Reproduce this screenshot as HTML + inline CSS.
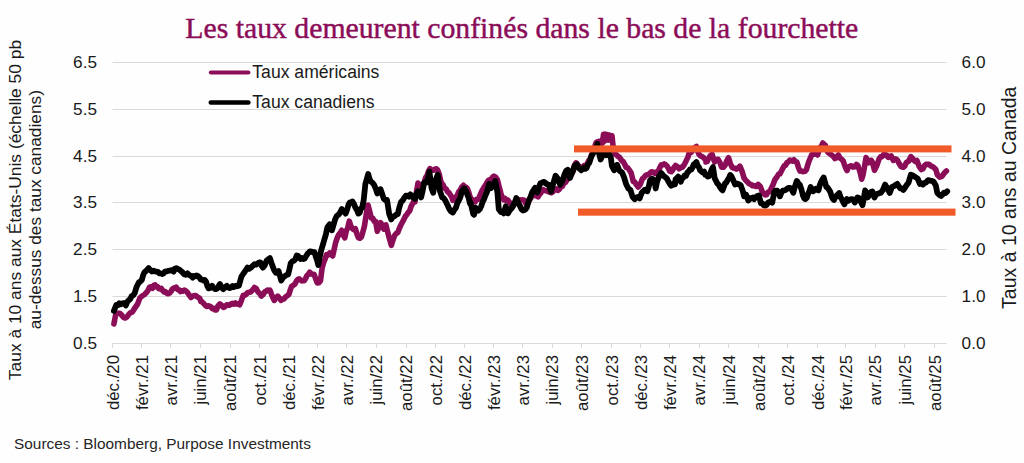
<!DOCTYPE html><html><head><meta charset="utf-8"><style>html,body{margin:0;padding:0;background:#fff;width:1024px;height:463px;overflow:hidden}svg{display:block}text{font-family:"Liberation Sans",sans-serif}</style></head><body><svg width="1024" height="463" viewBox="0 0 1024 463"><rect width="1024" height="463" fill="#fefefe"/><text x="185.3" y="37.6" textLength="673" lengthAdjust="spacingAndGlyphs" style="font-family:'Liberation Serif',serif;font-size:29.7px" fill="#8b0d58" stroke="#8b0d58" stroke-width="0.45">Les taux demeurent confinés dans le bas de la fourchette</text><line x1="112.5" y1="62.5" x2="946.5" y2="62.5" stroke="#d9d9d9" stroke-width="1"/><line x1="112.5" y1="109.5" x2="946.5" y2="109.5" stroke="#d9d9d9" stroke-width="1"/><line x1="112.5" y1="156.5" x2="946.5" y2="156.5" stroke="#d9d9d9" stroke-width="1"/><line x1="112.5" y1="202.5" x2="946.5" y2="202.5" stroke="#d9d9d9" stroke-width="1"/><line x1="112.5" y1="249.5" x2="946.5" y2="249.5" stroke="#d9d9d9" stroke-width="1"/><line x1="112.5" y1="296.5" x2="946.5" y2="296.5" stroke="#d9d9d9" stroke-width="1"/><line x1="112.5" y1="343.5" x2="946.5" y2="343.5" stroke="#d9d9d9" stroke-width="1"/><text x="97" y="68.1" text-anchor="end" font-size="17.2" fill="#1a1a1a">6.5</text><text x="961.6" y="68.1" font-size="17.2" fill="#1a1a1a">6.0</text><text x="97" y="115.1" text-anchor="end" font-size="17.2" fill="#1a1a1a">5.5</text><text x="961.6" y="115.1" font-size="17.2" fill="#1a1a1a">5.0</text><text x="97" y="162.1" text-anchor="end" font-size="17.2" fill="#1a1a1a">4.5</text><text x="961.6" y="162.1" font-size="17.2" fill="#1a1a1a">4.0</text><text x="97" y="208.1" text-anchor="end" font-size="17.2" fill="#1a1a1a">3.5</text><text x="961.6" y="208.1" font-size="17.2" fill="#1a1a1a">3.0</text><text x="97" y="255.1" text-anchor="end" font-size="17.2" fill="#1a1a1a">2.5</text><text x="961.6" y="255.1" font-size="17.2" fill="#1a1a1a">2.0</text><text x="97" y="302.1" text-anchor="end" font-size="17.2" fill="#1a1a1a">1.5</text><text x="961.6" y="302.1" font-size="17.2" fill="#1a1a1a">1.0</text><text x="97" y="349.1" text-anchor="end" font-size="17.2" fill="#1a1a1a">0.5</text><text x="961.6" y="349.1" font-size="17.2" fill="#1a1a1a">0.0</text><line x1="112.5" y1="343.5" x2="112.5" y2="348.0" stroke="#d9d9d9" stroke-width="1"/><text transform="translate(119.1,355) rotate(-90)" text-anchor="end" font-size="16.8" fill="#1a1a1a">déc./20</text><line x1="141.5" y1="343.5" x2="141.5" y2="348.0" stroke="#d9d9d9" stroke-width="1"/><text transform="translate(147.5,355) rotate(-90)" text-anchor="end" font-size="16.8" fill="#1a1a1a">févr./21</text><line x1="170.5" y1="343.5" x2="170.5" y2="348.0" stroke="#d9d9d9" stroke-width="1"/><text transform="translate(176.9,355) rotate(-90)" text-anchor="end" font-size="16.8" fill="#1a1a1a">avr./21</text><line x1="200.5" y1="343.5" x2="200.5" y2="348.0" stroke="#d9d9d9" stroke-width="1"/><text transform="translate(206.4,355) rotate(-90)" text-anchor="end" font-size="16.8" fill="#1a1a1a">juin/21</text><line x1="230.5" y1="343.5" x2="230.5" y2="348.0" stroke="#d9d9d9" stroke-width="1"/><text transform="translate(236.2,355) rotate(-90)" text-anchor="end" font-size="16.8" fill="#1a1a1a">août/21</text><line x1="259.5" y1="343.5" x2="259.5" y2="348.0" stroke="#d9d9d9" stroke-width="1"/><text transform="translate(265.7,355) rotate(-90)" text-anchor="end" font-size="16.8" fill="#1a1a1a">oct./21</text><line x1="288.5" y1="343.5" x2="288.5" y2="348.0" stroke="#d9d9d9" stroke-width="1"/><text transform="translate(295.1,355) rotate(-90)" text-anchor="end" font-size="16.8" fill="#1a1a1a">déc./21</text><line x1="317.5" y1="343.5" x2="317.5" y2="348.0" stroke="#d9d9d9" stroke-width="1"/><text transform="translate(323.5,355) rotate(-90)" text-anchor="end" font-size="16.8" fill="#1a1a1a">févr./22</text><line x1="346.5" y1="343.5" x2="346.5" y2="348.0" stroke="#d9d9d9" stroke-width="1"/><text transform="translate(352.9,355) rotate(-90)" text-anchor="end" font-size="16.8" fill="#1a1a1a">avr./22</text><line x1="376.5" y1="343.5" x2="376.5" y2="348.0" stroke="#d9d9d9" stroke-width="1"/><text transform="translate(382.3,355) rotate(-90)" text-anchor="end" font-size="16.8" fill="#1a1a1a">juin/22</text><line x1="406.5" y1="343.5" x2="406.5" y2="348.0" stroke="#d9d9d9" stroke-width="1"/><text transform="translate(412.2,355) rotate(-90)" text-anchor="end" font-size="16.8" fill="#1a1a1a">août/22</text><line x1="435.5" y1="343.5" x2="435.5" y2="348.0" stroke="#d9d9d9" stroke-width="1"/><text transform="translate(441.6,355) rotate(-90)" text-anchor="end" font-size="16.8" fill="#1a1a1a">oct./22</text><line x1="464.5" y1="343.5" x2="464.5" y2="348.0" stroke="#d9d9d9" stroke-width="1"/><text transform="translate(471.0,355) rotate(-90)" text-anchor="end" font-size="16.8" fill="#1a1a1a">déc./22</text><line x1="493.5" y1="343.5" x2="493.5" y2="348.0" stroke="#d9d9d9" stroke-width="1"/><text transform="translate(499.5,355) rotate(-90)" text-anchor="end" font-size="16.8" fill="#1a1a1a">févr./23</text><line x1="522.5" y1="343.5" x2="522.5" y2="348.0" stroke="#d9d9d9" stroke-width="1"/><text transform="translate(528.9,355) rotate(-90)" text-anchor="end" font-size="16.8" fill="#1a1a1a">avr./23</text><line x1="552.5" y1="343.5" x2="552.5" y2="348.0" stroke="#d9d9d9" stroke-width="1"/><text transform="translate(558.3,355) rotate(-90)" text-anchor="end" font-size="16.8" fill="#1a1a1a">juin/23</text><line x1="581.5" y1="343.5" x2="581.5" y2="348.0" stroke="#d9d9d9" stroke-width="1"/><text transform="translate(588.2,355) rotate(-90)" text-anchor="end" font-size="16.8" fill="#1a1a1a">août/23</text><line x1="611.5" y1="343.5" x2="611.5" y2="348.0" stroke="#d9d9d9" stroke-width="1"/><text transform="translate(617.6,355) rotate(-90)" text-anchor="end" font-size="16.8" fill="#1a1a1a">oct./23</text><line x1="640.5" y1="343.5" x2="640.5" y2="348.0" stroke="#d9d9d9" stroke-width="1"/><text transform="translate(647.0,355) rotate(-90)" text-anchor="end" font-size="16.8" fill="#1a1a1a">déc./23</text><line x1="669.5" y1="343.5" x2="669.5" y2="348.0" stroke="#d9d9d9" stroke-width="1"/><text transform="translate(675.9,355) rotate(-90)" text-anchor="end" font-size="16.8" fill="#1a1a1a">févr./24</text><line x1="699.5" y1="343.5" x2="699.5" y2="348.0" stroke="#d9d9d9" stroke-width="1"/><text transform="translate(705.3,355) rotate(-90)" text-anchor="end" font-size="16.8" fill="#1a1a1a">avr./24</text><line x1="728.5" y1="343.5" x2="728.5" y2="348.0" stroke="#d9d9d9" stroke-width="1"/><text transform="translate(734.7,355) rotate(-90)" text-anchor="end" font-size="16.8" fill="#1a1a1a">juin/24</text><line x1="758.5" y1="343.5" x2="758.5" y2="348.0" stroke="#d9d9d9" stroke-width="1"/><text transform="translate(764.6,355) rotate(-90)" text-anchor="end" font-size="16.8" fill="#1a1a1a">août/24</text><line x1="787.5" y1="343.5" x2="787.5" y2="348.0" stroke="#d9d9d9" stroke-width="1"/><text transform="translate(794.0,355) rotate(-90)" text-anchor="end" font-size="16.8" fill="#1a1a1a">oct./24</text><line x1="817.5" y1="343.5" x2="817.5" y2="348.0" stroke="#d9d9d9" stroke-width="1"/><text transform="translate(823.5,355) rotate(-90)" text-anchor="end" font-size="16.8" fill="#1a1a1a">déc./24</text><line x1="845.5" y1="343.5" x2="845.5" y2="348.0" stroke="#d9d9d9" stroke-width="1"/><text transform="translate(851.9,355) rotate(-90)" text-anchor="end" font-size="16.8" fill="#1a1a1a">févr./25</text><line x1="875.5" y1="343.5" x2="875.5" y2="348.0" stroke="#d9d9d9" stroke-width="1"/><text transform="translate(881.3,355) rotate(-90)" text-anchor="end" font-size="16.8" fill="#1a1a1a">avr./25</text><line x1="904.5" y1="343.5" x2="904.5" y2="348.0" stroke="#d9d9d9" stroke-width="1"/><text transform="translate(910.7,355) rotate(-90)" text-anchor="end" font-size="16.8" fill="#1a1a1a">juin/25</text><line x1="934.5" y1="343.5" x2="934.5" y2="348.0" stroke="#d9d9d9" stroke-width="1"/><text transform="translate(940.6,355) rotate(-90)" text-anchor="end" font-size="16.8" fill="#1a1a1a">août/25</text><text transform="translate(20.7,210.0) rotate(-90)" text-anchor="middle" font-size="17.4" fill="#1a1a1a">Taux à 10 ans aux États-Unis (échelle 50 pb</text><text transform="translate(40.8,209.7) rotate(-90)" text-anchor="middle" font-size="17.3" fill="#1a1a1a">au-dessus des taux canadiens)</text><text transform="translate(1015.5,197.8) rotate(-90)" text-anchor="middle" font-size="19.5" fill="#1a1a1a">Taux à 10 ans au Canada</text><line x1="210.8" y1="72.6" x2="248.4" y2="72.6" stroke="#8b0d58" stroke-width="4" stroke-linecap="round"/><text x="252.3" y="78" font-size="17.6" fill="#1a1a1a">Taux américains</text><line x1="210.8" y1="102.5" x2="248.4" y2="102.5" stroke="#000" stroke-width="4.5" stroke-linecap="round"/><text x="252.3" y="107.7" font-size="17.6" fill="#1a1a1a">Taux canadiens</text><path d="M113.9,323.9 L115.7,314.4 L118.1,313.3 L119.8,313.2 L121.6,315.0 L123.4,317.4 L125.2,318.0 L127.0,316.9 L128.8,314.4 L130.5,312.6 L132.3,312.1 L133.8,309.7 L135.3,307.3 L137.7,303.8 L140.0,297.8 L141.5,296.5 L143.0,295.4 L144.5,294.6 L146.0,293.1 L147.8,290.8 L149.5,287.1 L151.0,286.7 L152.5,288.3 L153.8,285.3 L155.0,284.8 L156.2,286.7 L157.4,286.6 L158.6,288.5 L159.8,288.9 L161.2,288.4 L162.6,290.4 L164.0,292.0 L165.3,291.6 L166.7,293.2 L168.2,293.8 L169.6,293.1 L171.0,291.5 L172.3,289.2 L173.6,288.1 L174.9,288.3 L176.2,287.1 L177.7,289.7 L179.1,289.7 L180.5,291.5 L181.7,290.7 L183.0,291.2 L184.2,290.2 L185.4,290.7 L186.6,291.5 L188.0,293.3 L189.5,295.5 L190.9,297.5 L192.2,296.4 L193.5,295.9 L194.8,295.5 L196.1,295.8 L197.3,296.9 L198.5,297.6 L199.7,298.2 L200.9,301.5 L202.1,301.8 L203.7,303.5 L205.3,305.3 L206.9,306.5 L208.6,305.7 L210.4,306.5 L212.1,308.6 L213.8,308.2 L215.1,310.0 L216.4,309.9 L218.1,305.9 L219.9,303.9 L221.6,305.2 L223.3,307.4 L225.0,306.6 L226.8,304.8 L228.2,305.0 L229.6,305.3 L231.1,303.9 L232.5,303.4 L234.0,304.2 L235.4,303.0 L236.8,304.1 L238.3,303.7 L239.7,304.8 L241.5,300.2 L243.2,295.3 L244.6,295.4 L246.1,294.4 L247.5,292.7 L249.2,292.3 L250.9,291.8 L252.7,289.9 L254.4,287.5 L256.1,288.4 L257.9,291.8 L259.6,293.3 L261.3,296.1 L263.0,294.7 L264.8,291.8 L266.1,291.2 L267.4,290.1 L268.7,290.6 L269.9,290.1 L271.4,294.1 L272.8,297.4 L274.3,300.4 L276.0,298.0 L277.7,296.1 L279.4,298.1 L281.2,300.4 L282.6,299.3 L284.1,298.9 L285.5,297.0 L287.2,295.8 L288.9,294.4 L290.2,290.2 L291.5,286.6 L293.3,285.3 L295.0,284.0 L296.4,281.1 L297.9,279.4 L299.3,278.9 L300.6,279.9 L301.8,281.0 L303.1,280.5 L304.3,280.7 L305.7,278.3 L307.0,275.5 L308.4,274.2 L309.7,272.1 L311.2,274.0 L312.6,274.2 L314.0,274.2 L315.7,278.7 L317.3,282.9 L318.9,282.7 L320.5,280.7 L322.1,268.1 L323.6,262.8 L325.1,259.0 L326.6,254.5 L328.2,254.9 L329.7,253.0 L331.2,254.7 L332.7,256.0 L334.2,249.1 L335.7,242.4 L337.2,238.0 L338.7,234.8 L340.3,232.7 L341.8,230.3 L343.3,235.2 L344.8,237.8 L346.3,231.0 L347.8,227.5 L349.3,221.2 L350.8,225.8 L352.4,228.7 L353.9,229.7 L355.4,228.7 L356.9,233.9 L358.4,237.8 L359.9,238.2 L361.4,237.1 L363.0,231.4 L364.5,225.7 L366.0,216.0 L367.5,206.1 L368.0,205.1 L369.7,211.4 L371.3,218.1 L372.7,218.0 L374.2,221.2 L375.6,221.3 L377.3,231.3 L378.9,227.1 L380.5,222.6 L382.1,225.1 L383.8,229.1 L385.9,224.8 L387.5,231.3 L389.2,237.8 L391.3,245.3 L392.9,240.4 L394.6,235.6 L396.2,233.6 L397.8,232.4 L399.4,228.2 L401.0,224.8 L402.5,222.0 L403.9,219.4 L405.4,216.2 L406.8,214.6 L408.2,212.4 L409.7,210.8 L411.1,206.3 L412.6,203.6 L414.0,201.0 L415.0,201.9 L416.5,191.6 L418.0,183.0 L419.3,185.0 L420.5,187.5 L421.8,188.3 L423.1,185.5 L424.3,182.0 L425.6,177.7 L427.1,175.5 L428.6,171.0 L430.1,168.6 L431.4,170.0 L432.7,170.1 L433.9,170.1 L435.2,169.0 L436.4,168.9 L437.7,170.1 L439.2,174.2 L440.7,180.7 L442.0,183.9 L443.2,185.1 L444.5,188.3 L446.0,188.8 L447.5,191.6 L449.0,192.8 L450.3,194.9 L451.6,196.7 L452.8,200.4 L454.3,198.0 L455.8,197.4 L457.4,194.9 L458.9,191.5 L460.4,189.8 L461.9,186.9 L463.4,185.3 L464.7,186.8 L465.9,187.2 L467.2,188.3 L468.6,191.9 L470.0,196.5 L471.0,198.9 L472.6,199.7 L474.2,200.7 L475.1,201.9 L476.7,199.4 L478.4,199.3 L480.2,194.8 L481.9,190.9 L483.7,187.9 L485.4,185.3 L486.9,182.6 L488.3,180.5 L489.7,179.7 L491.1,179.5 L492.5,177.3 L493.9,176.2 L495.6,177.2 L497.4,179.7 L499.5,188.1 L500.9,193.3 L502.3,197.9 L503.7,199.7 L505.1,198.5 L506.5,200.7 L507.9,200.2 L509.3,202.1 L510.7,203.3 L512.1,206.3 L513.5,205.5 L514.9,202.7 L516.3,202.1 L517.6,201.9 L518.8,201.1 L520.0,199.9 L521.5,200.0 L523.0,199.9 L524.3,200.2 L525.5,203.2 L526.8,203.0 L528.1,202.2 L529.3,200.0 L530.6,198.4 L531.9,196.2 L533.1,195.8 L534.4,193.9 L535.6,194.6 L536.9,196.1 L538.2,196.9 L539.4,194.4 L540.7,193.2 L541.9,190.8 L543.4,189.7 L545.0,190.8 L546.5,190.7 L548.0,191.6 L550.3,192.4 L551.8,192.6 L553.3,191.3 L554.8,189.3 L556.3,188.8 L557.8,190.3 L559.3,189.3 L560.8,186.8 L562.4,186.4 L563.9,183.3 L565.4,182.4 L566.9,180.0 L568.4,178.7 L569.7,176.1 L570.9,173.4 L572.2,172.7 L573.5,170.4 L574.7,164.9 L576.0,162.9 L576.9,163.3 L578.3,165.7 L579.7,167.7 L581.2,168.1 L582.6,167.4 L584.1,165.5 L585.5,165.5 L587.1,164.0 L588.7,160.6 L590.1,159.1 L591.4,155.2 L592.8,152.2 L594.1,148.2 L596.3,142.3 L597.9,141.7 L599.5,141.2 L600.9,141.9 L602.2,143.3 L603.6,134.2 L604.5,141.2 L605.6,134.2 L606.6,140.1 L607.7,134.7 L608.8,140.1 L609.9,135.2 L611.0,140.1 L612.0,135.8 L613.1,146.6 L615.0,154.1 L616.4,154.8 L617.8,156.2 L619.2,156.9 L620.6,159.0 L622.0,160.9 L623.4,161.9 L624.8,164.5 L626.2,167.5 L627.6,167.7 L629.0,169.6 L631.2,173.1 L633.3,181.5 L634.7,181.9 L636.1,184.3 L638.2,187.1 L640.3,184.3 L642.4,178.7 L643.8,177.7 L645.2,175.9 L647.0,174.7 L648.7,174.5 L650.1,173.1 L651.5,171.7 L652.9,171.9 L654.3,173.1 L655.7,173.4 L657.1,171.7 L658.5,170.6 L659.9,167.5 L661.3,164.8 L662.8,164.7 L664.2,163.9 L665.6,164.7 L667.0,166.0 L668.4,168.2 L669.8,171.2 L671.2,171.7 L672.6,170.3 L674.0,167.5 L675.6,165.4 L677.4,166.7 L679.1,168.9 L680.8,167.3 L682.5,167.1 L684.3,164.6 L686.0,161.1 L687.7,157.6 L689.4,152.5 L691.2,152.3 L692.9,149.9 L694.6,147.7 L696.4,146.4 L697.7,151.3 L698.9,154.2 L700.7,156.0 L702.4,156.8 L703.5,157.6 L704.7,158.9 L705.9,160.2 L706.0,162.0 L707.3,161.5 L708.6,158.5 L710.4,155.6 L712.1,154.2 L713.4,158.7 L714.7,162.0 L716.4,159.6 L718.1,159.4 L719.9,162.4 L721.6,167.1 L723.3,167.3 L725.0,165.4 L726.8,160.8 L728.5,157.6 L730.2,163.1 L732.0,167.1 L733.5,168.0 L735.0,168.3 L736.4,169.1 L737.8,168.3 L739.9,166.2 L742.0,171.1 L744.1,178.1 L746.2,180.9 L747.6,182.0 L749.0,183.7 L750.8,184.3 L752.6,185.8 L754.0,185.6 L755.4,186.5 L756.8,186.4 L758.2,184.4 L760.3,186.5 L762.4,192.1 L763.8,193.8 L765.2,194.9 L766.6,194.7 L768.0,192.1 L769.4,191.7 L770.8,189.3 L772.9,185.1 L775.0,179.5 L777.1,176.7 L778.5,174.3 L779.9,173.9 L781.3,171.2 L782.8,168.3 L784.2,165.8 L785.6,165.4 L787.0,162.5 L788.4,161.9 L789.8,160.1 L791.2,160.5 L792.6,161.1 L794.0,159.8 L795.4,161.6 L796.8,161.9 L798.4,167.4 L800.0,171.1 L801.3,170.8 L802.6,171.6 L803.8,171.5 L805.1,171.3 L806.4,169.7 L807.7,165.1 L809.0,161.1 L810.3,158.2 L811.6,155.0 L812.9,153.9 L814.2,154.2 L815.9,153.5 L817.6,155.0 L818.9,150.6 L820.2,147.3 L821.5,146.1 L822.8,143.0 L824.1,144.4 L825.4,145.5 L826.7,150.1 L828.0,152.5 L829.7,153.6 L831.5,155.0 L833.2,156.2 L834.9,158.5 L836.6,157.5 L838.4,155.0 L840.1,158.1 L841.8,159.4 L843.1,160.7 L844.4,164.5 L845.7,168.0 L847.0,170.6 L848.3,167.4 L849.6,166.3 L851.3,165.7 L853.0,167.1 L854.8,166.8 L856.5,164.5 L857.8,165.5 L859.1,168.9 L860.4,173.4 L861.7,179.2 L863.0,174.9 L864.3,168.0 L866.0,157.6 L867.3,160.0 L868.6,162.8 L870.0,160.4 L871.2,160.2 L872.3,161.9 L874.5,170.3 L876.8,165.7 L879.1,158.9 L880.6,156.8 L882.1,156.6 L883.6,154.6 L885.1,154.4 L886.6,155.2 L888.2,157.4 L889.7,157.3 L891.2,155.9 L893.4,160.4 L895.7,158.9 L897.2,159.8 L898.7,162.7 L901.0,166.5 L903.3,167.2 L904.8,166.0 L906.3,162.7 L908.6,161.2 L910.8,156.6 L912.4,158.2 L913.9,160.4 L915.4,161.6 L916.9,160.4 L919.2,166.5 L921.4,169.5 L923.0,168.7 L924.5,165.7 L926.0,164.4 L927.5,164.2 L929.0,164.3 L930.5,165.7 L932.0,166.4 L933.5,167.2 L935.8,169.5 L937.3,174.8 L939.6,177.1 L941.9,176.3 L944.1,173.3 L946.4,171.0" fill="none" stroke="#8b0d58" stroke-width="5.6" stroke-linejoin="round" stroke-linecap="round"/><path d="M113.9,310.9 L116.3,304.9 L117.8,305.2 L119.3,303.2 L121.0,304.3 L122.8,303.2 L124.3,303.2 L125.8,305.5 L127.3,301.8 L128.8,300.2 L130.2,299.0 L131.7,296.0 L133.2,295.2 L134.7,293.1 L136.5,287.1 L138.8,282.4 L140.3,281.6 L141.8,280.0 L143.0,275.7 L144.3,272.5 L145.7,271.3 L147.1,269.9 L148.6,268.1 L150.3,270.1 L152.0,271.6 L153.5,270.7 L154.9,271.4 L156.4,271.6 L157.8,271.9 L159.2,273.3 L160.7,273.3 L162.1,274.0 L163.6,273.3 L165.0,271.6 L166.4,271.4 L167.9,270.9 L169.3,270.7 L170.8,270.4 L172.2,270.1 L173.6,271.6 L174.9,268.6 L176.2,268.1 L177.7,268.9 L179.1,269.4 L180.5,270.7 L182.3,272.1 L184.0,274.2 L185.7,274.8 L187.4,273.3 L188.7,274.5 L190.0,275.6 L191.3,275.9 L192.6,277.6 L193.9,276.0 L195.2,276.3 L196.5,275.4 L197.8,275.9 L199.2,277.1 L200.7,279.5 L202.1,279.4 L203.4,280.5 L204.7,279.9 L206.0,281.5 L207.3,285.9 L208.6,288.4 L210.4,287.8 L212.1,285.8 L213.8,288.1 L215.5,289.2 L217.0,288.6 L218.4,286.5 L219.9,284.0 L221.6,287.4 L223.3,289.2 L225.0,287.1 L226.8,285.8 L228.2,287.6 L229.6,288.1 L231.1,287.5 L232.5,286.0 L234.0,287.0 L235.4,285.8 L237.1,286.3 L238.9,285.8 L240.2,280.9 L241.5,276.3 L242.7,274.6 L244.0,272.8 L245.8,270.2 L247.5,267.6 L249.2,268.7 L250.9,267.6 L252.7,265.9 L254.4,264.2 L256.1,264.6 L257.9,263.3 L259.2,262.5 L260.4,262.5 L261.7,266.0 L263.0,267.6 L264.8,265.2 L266.5,260.7 L268.2,259.3 L269.9,258.1 L271.2,262.2 L272.5,265.9 L274.3,270.5 L276.0,272.8 L277.3,272.5 L278.6,271.1 L279.9,275.8 L281.2,280.6 L282.9,277.7 L284.6,276.3 L286.4,275.0 L288.1,274.5 L289.4,269.4 L290.7,263.3 L292.4,261.2 L294.1,260.7 L295.4,259.2 L296.7,255.5 L298.0,255.8 L299.3,257.3 L300.6,259.0 L301.9,258.0 L303.2,259.1 L304.7,258.5 L306.1,256.1 L307.6,253.7 L308.8,252.6 L310.0,251.4 L311.5,251.7 L313.0,252.3 L314.5,252.2 L315.8,256.7 L317.1,260.3 L318.3,265.1 L319.8,256.7 L321.3,249.9 L322.9,244.7 L324.4,239.3 L325.9,234.4 L327.4,227.2 L329.7,224.2 L331.9,230.3 L333.4,225.3 L335.0,219.7 L336.5,216.3 L338.0,215.1 L339.2,213.9 L340.5,211.7 L341.8,209.1 L343.0,211.6 L344.3,211.3 L345.6,213.6 L347.1,209.7 L348.6,204.5 L349.8,202.4 L351.1,202.9 L352.4,201.5 L353.9,203.9 L355.4,207.6 L356.9,209.9 L358.4,213.6 L359.7,212.6 L360.9,208.6 L362.2,207.6 L363.7,200.0 L365.4,183.8 L366.8,179.0 L368.2,174.0 L369.5,178.7 L370.8,181.6 L372.4,182.6 L374.0,184.8 L375.7,188.4 L377.3,193.5 L378.9,192.3 L380.5,189.2 L382.1,193.8 L383.8,198.9 L385.4,200.0 L387.0,200.0 L389.2,214.0 L391.3,219.4 L392.9,216.6 L394.6,216.2 L396.2,214.7 L397.8,214.0 L399.4,207.2 L401.0,202.1 L402.7,200.4 L404.3,197.8 L405.9,195.6 L407.5,195.6 L409.0,196.8 L410.4,194.4 L411.8,195.6 L413.4,197.9 L415.0,198.9 L416.5,193.8 L418.0,191.3 L419.5,193.7 L421.1,197.4 L422.6,191.0 L424.1,183.0 L425.6,181.7 L427.1,182.2 L429.4,171.6 L431.6,188.3 L433.2,192.8 L435.4,180.7 L437.7,174.7 L440.0,191.3 L442.2,197.4 L443.7,198.1 L445.3,200.4 L447.5,204.9 L449.0,208.4 L450.6,211.0 L452.8,212.5 L454.3,209.9 L455.8,208.0 L457.4,203.0 L458.9,200.4 L460.4,197.1 L461.9,191.3 L464.2,188.3 L465.7,190.4 L467.2,194.3 L468.6,197.7 L470.0,203.5 L470.2,201.9 L471.5,206.5 L472.8,212.0 L473.2,214.0 L474.0,214.8 L475.6,207.8 L477.0,209.5 L478.4,210.6 L479.8,209.1 L481.2,206.3 L482.6,201.8 L484.0,199.3 L485.4,195.4 L486.9,192.3 L489.0,183.9 L491.1,188.1 L493.2,185.3 L495.3,181.1 L497.4,192.3 L498.8,209.2 L500.9,212.0 L502.3,211.4 L503.7,213.4 L505.8,206.3 L507.9,213.4 L509.3,211.1 L510.7,209.2 L512.1,207.7 L513.5,204.9 L514.9,202.1 L516.3,197.9 L518.5,203.5 L520.0,206.0 L521.5,209.3 L523.0,210.5 L524.3,210.2 L525.5,209.4 L526.8,207.5 L529.1,199.9 L530.6,196.7 L532.1,192.4 L533.6,190.0 L535.1,187.8 L537.4,192.4 L538.9,187.1 L540.4,183.3 L541.9,182.9 L543.4,181.8 L545.0,182.4 L546.5,184.0 L548.7,184.8 L551.0,191.6 L553.3,183.3 L555.6,175.7 L557.8,178.7 L560.1,184.8 L562.4,181.0 L564.6,174.2 L566.1,170.9 L567.7,169.7 L569.9,178.0 L572.2,172.7 L574.5,165.9 L576.7,164.4 L579.0,168.1 L581.2,170.3 L582.5,168.8 L583.9,167.6 L585.2,168.9 L586.6,168.1 L587.9,164.5 L589.3,162.8 L591.4,156.3 L593.6,152.5 L595.7,150.9 L597.4,143.9 L599.0,153.0 L600.6,159.5 L602.2,156.3 L604.4,153.0 L606.5,155.2 L608.7,153.0 L610.8,157.4 L611.9,166.0 L614.1,170.3 L615.0,168.2 L617.1,164.7 L619.2,170.3 L620.6,171.6 L622.0,172.4 L624.1,177.3 L626.2,184.3 L628.3,188.5 L630.4,189.9 L632.6,197.0 L634.7,199.1 L636.1,197.7 L637.5,197.0 L639.6,198.4 L641.7,192.8 L643.1,191.4 L644.5,189.9 L645.9,189.7 L647.3,191.3 L648.7,186.9 L650.1,180.1 L652.2,178.7 L654.3,180.1 L655.7,188.5 L657.1,181.5 L659.2,175.9 L661.3,173.1 L663.5,175.9 L665.6,177.3 L667.0,178.8 L668.4,181.5 L669.8,183.9 L671.2,185.7 L672.4,185.1 L673.7,183.5 L675.0,184.3 L675.6,179.2 L676.9,178.1 L678.2,176.6 L679.5,178.3 L680.8,181.8 L682.1,178.5 L683.4,177.5 L684.7,175.4 L686.0,175.8 L687.3,172.7 L688.6,171.5 L689.9,169.5 L691.2,169.7 L692.5,167.5 L693.8,164.5 L695.1,163.3 L696.4,162.0 L697.7,165.8 L698.9,167.1 L700.2,170.4 L701.5,171.5 L702.6,172.3 L704.1,171.5 L705.2,174.9 L706.7,174.9 L707.8,176.6 L709.1,176.2 L710.4,173.2 L711.7,169.5 L713.0,167.1 L714.7,178.4 L716.0,180.8 L717.3,183.5 L718.6,184.6 L719.9,187.0 L721.2,189.0 L722.5,190.4 L723.7,187.3 L725.0,183.5 L726.3,182.6 L727.6,180.1 L728.9,178.0 L730.2,174.9 L731.5,176.4 L732.8,179.2 L735.0,184.4 L736.4,183.9 L737.8,183.7 L739.2,184.5 L740.6,185.1 L742.7,190.7 L744.1,196.3 L746.2,194.9 L748.3,200.6 L749.7,198.2 L751.2,198.5 L752.6,197.6 L754.0,199.2 L755.4,197.5 L756.8,196.3 L758.9,195.6 L761.0,203.4 L762.4,203.4 L763.8,205.5 L765.2,205.7 L766.6,204.8 L768.0,202.7 L769.4,202.0 L770.8,201.3 L772.2,202.7 L774.3,192.1 L775.7,190.6 L777.1,190.7 L778.5,192.8 L779.9,196.3 L781.3,192.8 L782.8,190.7 L784.2,190.4 L785.6,190.0 L787.0,188.9 L788.4,187.9 L789.8,187.8 L791.2,188.6 L793.3,192.8 L795.4,185.1 L796.8,180.9 L798.4,183.4 L800.0,185.1 L801.5,189.6 L803.0,195.6 L804.2,198.4 L805.5,199.1 L806.8,197.7 L808.1,193.9 L809.4,191.0 L810.7,187.0 L812.0,189.0 L813.3,191.3 L814.6,190.0 L815.9,188.7 L817.2,189.8 L818.5,190.4 L819.8,185.0 L821.1,181.8 L822.4,179.4 L823.7,177.5 L825.0,182.3 L826.3,187.0 L827.6,187.5 L828.9,189.6 L830.2,191.6 L831.5,195.6 L832.7,198.6 L834.0,199.9 L835.3,197.4 L836.6,195.6 L837.9,194.4 L839.2,193.0 L840.5,197.2 L841.8,199.1 L843.1,202.0 L844.4,204.3 L845.7,201.1 L847.0,199.1 L848.3,200.8 L849.6,199.9 L850.9,199.2 L852.2,199.1 L853.5,199.6 L854.8,202.5 L856.1,200.4 L857.4,197.4 L858.7,198.0 L859.9,200.8 L861.2,202.5 L862.5,205.1 L863.8,198.7 L865.1,190.4 L866.4,194.4 L867.7,197.4 L870.0,194.5 L870.3,192.2 L872.3,191.4 L874.5,197.5 L876.1,194.3 L877.6,193.7 L879.1,193.2 L880.6,193.0 L882.9,189.9 L885.1,184.6 L887.4,188.4 L889.7,193.0 L891.9,186.9 L894.2,186.1 L895.7,184.8 L897.2,183.9 L898.7,186.1 L900.3,188.4 L901.8,188.4 L903.3,189.9 L904.8,187.9 L906.3,185.4 L908.6,182.4 L910.8,174.8 L913.1,175.6 L915.4,177.1 L917.7,178.6 L919.9,183.9 L921.4,183.1 L923.0,184.6 L924.5,182.9 L926.0,182.4 L928.2,180.1 L930.5,180.8 L932.0,180.9 L933.5,181.6 L935.8,185.4 L937.3,193.0 L939.6,195.2 L941.1,196.0 L942.6,194.5 L944.1,192.6 L945.6,193.0 L947.2,191.4" fill="none" stroke="#000" stroke-width="5.8" stroke-linejoin="round" stroke-linecap="round"/><rect x="574" y="145.4" width="377.5" height="7" fill="#f15a29"/><rect x="578" y="208.6" width="377.5" height="7.1" fill="#f15a29"/><text x="14" y="449.4" font-size="15.4" fill="#262626">Sources : Bloomberg, Purpose Investments</text></svg></body></html>
